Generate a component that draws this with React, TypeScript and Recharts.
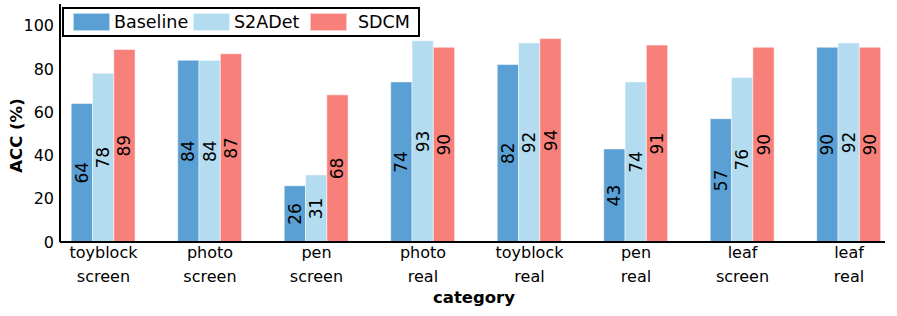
import React from 'react';
import { BarChart, Bar, XAxis, YAxis, Legend, LabelList, Label } from 'recharts';

const categories = [
  'toyblock\nscreen',
  'photo\nscreen',
  'pen\nscreen',
  'photo\nreal',
  'toyblock\nreal',
  'pen\nreal',
  'leaf\nscreen',
  'leaf\nreal',
];
const baselineValues = [64, 84, 26, 74, 82, 43, 57, 90];
const s2adetValues = [78, 84, 31, 93, 92, 74, 76, 92];
const sdcmValues = [89, 87, 68, 90, 94, 91, 90, 90];
const yTicks = [0, 20, 40, 60, 80, 100];
const xTicks = categories.map((_, i) => i);

const seriesNames = ['Baseline', 'S2ADet', 'SDCM'];
const COLORS = ['#5ba0d4', '#b3dcf0', '#f8807a'];
const FONT = 'DejaVu Sans';

const data = categories.map((c, i) => ({
  x: i,
  cat: c,
  baseline: baselineValues[i],
  s2adet: s2adetValues[i],
  sdcm: sdcmValues[i],
}));

const CatTick = (props: any) => {
  const { x, y, payload } = props;
  const lines = categories[payload.value].split('\n');
  return (
    <text x={x} y={y} textAnchor="middle" fontSize={16} fontFamily={FONT} fill="#000">
      {lines.map((l, k) => (
        <tspan key={k} x={x} dy={k === 0 ? 16 : 24}>
          {l}
        </tspan>
      ))}
    </text>
  );
};

const renderLegend = () => {
  const textWidths = [79, 76, 60];
  const textGaps = [4, 4, 11];
  return (
    <div
      style={{
        boxSizing: 'border-box',
        width: 358,
        height: 30,
        border: '2px solid #000',
        background: '#fff',
        display: 'flex',
        alignItems: 'center',
        paddingLeft: 9,
        fontFamily: FONT,
        fontSize: 17.5,
        color: '#000',
      }}
    >
      {seriesNames.map((n, i) => (
        <div key={n} style={{ display: 'flex', alignItems: 'center' }}>
          <div
            style={{
              boxSizing: 'border-box',
              width: 37,
              height: 18,
              background: COLORS[i],
              border: '1px solid rgba(255,255,255,0.6)',
            }}
          />
          <span style={{ marginLeft: textGaps[i], width: textWidths[i], whiteSpace: 'nowrap', lineHeight: '20px' }}>
            {n}
          </span>
        </div>
      ))}
    </div>
  );
};

const YLabel = (props: any) => {
  const vb = props.viewBox;
  const cy = vb.y + vb.height / 2 + 12.5;
  return (
    <text
      x={22}
      y={cy}
      transform={`rotate(-90, 22, ${cy})`}
      textAnchor="middle"
      fontSize={16.5}
      fontWeight="bold"
      fontFamily={FONT}
      fill="#000"
    >
      ACC (%)
    </text>
  );
};

const XLabel = (props: any) => {
  const vb = props.viewBox;
  return (
    <text
      x={vb.x + vb.width / 2 + 1.5}
      y={vb.y + 61}
      textAnchor="middle"
      fontSize={16.5}
      fontWeight="bold"
      fontFamily={FONT}
      fill="#000"
    >
      category
    </text>
  );
};

const labelProps = { position: 'center' as const, angle: -90, fill: '#000', fontSize: 17, fontFamily: FONT };

export default function App() {
  return (
    <div style={{ position: 'absolute', left: 0, top: 0, background: '#fff' }}>
      <BarChart
        width={897}
        height={316}
        data={data}
        margin={{ top: 4, right: 12, bottom: 0, left: 0 }}
        barGap={0}
      >
        <XAxis
          dataKey="x"
          type="number"
          domain={[-0.408, 7.338]}
          ticks={xTicks}
          allowDataOverflow
          interval={0}
          tickLine={false}
          tickSize={0}
          tickMargin={0}
          height={74}
          axisLine={{ stroke: '#000', strokeWidth: 2 }}
          tick={<CatTick />}
        >
          <Label content={<XLabel />} />
        </XAxis>
        <XAxis
          xAxisId="top"
          orientation="top"
          height={0}
          tick={false}
          tickLine={false}
          axisLine={{ stroke: '#000', strokeWidth: 2 }}
        />
        <YAxis
          domain={[0, 110]}
          ticks={yTicks}
          width={60}
          tickLine={false}
          tickSize={0}
          tickMargin={6}
          axisLine={{ stroke: '#000', strokeWidth: 2 }}
          tick={{ fill: '#000', fontSize: 16, fontFamily: FONT }}
        >
          <Label content={<YLabel />} />
        </YAxis>
        <YAxis
          yAxisId="right"
          orientation="right"
          width={0}
          tick={false}
          tickLine={false}
          axisLine={{ stroke: '#000', strokeWidth: 2 }}
        />
        <Legend
          layout="horizontal"
          verticalAlign="middle"
          align="center"
          content={renderLegend}
          wrapperStyle={{ left: 62, top: 7, width: 'auto', height: 'auto' }}
        />
        <Bar dataKey="baseline" name="Baseline" fill={COLORS[0]} barSize={21.3} stroke="#fff" strokeOpacity={0.5} strokeWidth={1} isAnimationActive={false}>
          <LabelList dataKey="baseline" {...labelProps} />
        </Bar>
        <Bar dataKey="s2adet" name="S2ADet" fill={COLORS[1]} barSize={21.3} stroke="#fff" strokeOpacity={0.5} strokeWidth={1} isAnimationActive={false}>
          <LabelList dataKey="s2adet" {...labelProps} />
        </Bar>
        <Bar dataKey="sdcm" name="SDCM" fill={COLORS[2]} barSize={21.3} stroke="#fff" strokeOpacity={0.5} strokeWidth={1} isAnimationActive={false}>
          <LabelList dataKey="sdcm" {...labelProps} />
        </Bar>
      </BarChart>
    </div>
  );
}
